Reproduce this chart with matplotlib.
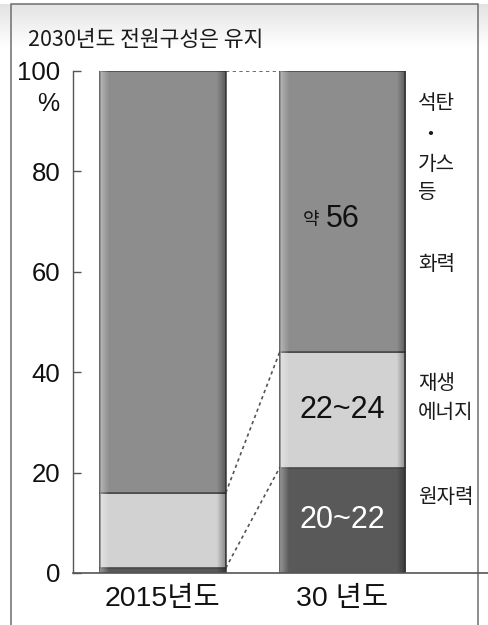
import numpy as np
import matplotlib
matplotlib.use('Agg')
import matplotlib.pyplot as plt
from matplotlib.patches import Rectangle

plt.rcParams['font.family'] = ['Liberation Sans', 'Noto Sans CJK KR']

# 전원구성 (%)
years = ['2015년도', '30 년도']
nuclear = [1, 21]
renewables = [15, 23]
fossil = [84, 56]
inner_labels = [None, ('20~22', '22~24', '56')]
yticks = [0, 20, 40, 60, 80, 100]

fossil_note = [('석탄', 93.6), ('・', 87.3), ('가스', 81.3), ('등', 75.7), ('화력', 61.4)]
renew_note = [('재생', 37.8), ('에너지', 31.9)]
nuclear_note = [('원자력', 15.1)]

W, H = 489, 625
fig = plt.figure(figsize=(W / 100, H / 100), dpi=100)

# 상단 회색 그라데이션 배경
bg = fig.add_axes([0, 0, 1, 1], zorder=-5)
bg.axis('off')
grad = np.linspace(0, 1, 200)[:, None] * np.ones((1, 50))
shade = 0.89 + 0.11 * np.clip(grad * 1.3, 0, 1)
img = np.dstack([shade, shade, shade])
bg.imshow(img, extent=[0, 1, 1 - 60 / H, 1 - 4 / H], aspect='auto', origin='upper')
bg.set_xlim(0, 1)
bg.set_ylim(0, 1)

# 바깥 테두리
fig.patches.append(Rectangle((11 / W, -0.01), 467 / W, 1.01 - 4 / H,
                             transform=fig.transFigure, fill=False,
                             edgecolor='#6e6e6e', lw=1.1, zorder=-4))

fig.text(28 / W, 1 - 40 / H, '2030년도 전원구성은 유지', fontsize=15.5,
         family=['Noto Sans CJK KR'], va='center', ha='left', color='#1a1a1a')
fig.text(48 / W, 1 - 104 / H, '%', fontsize=18, ha='center', va='center',
         color='#111111')

# 메인 축
x0 = -(163 - 73) / 179.5
x1 = 1 + (489 - 342.5) / 179.5
ax = fig.add_axes([73 / W, 1 - 573 / H, (489 - 73) / W, (573 - 71) / H])
ax.set_xlim(x0, x1)
ax.set_ylim(0, 100)
ax.patch.set_alpha(0)
for s in ['top', 'right']:
    ax.spines[s].set_visible(False)
ax.spines['left'].set_color('#555555')
ax.spines['bottom'].set_color('#555555')
ax.spines['left'].set_linewidth(1.0)
ax.spines['bottom'].set_linewidth(1.2)
ax.spines['left'].set_bounds(0, 100)

ax.set_yticks(yticks)
ax.set_yticklabels([str(v) for v in yticks], fontsize=18.5, color='#111111')
ax.tick_params(axis='y', direction='in', length=5.5, width=1.0, color='#555555', pad=9)
ax.set_xticks([0, 1])
ax.set_xticklabels(years, fontsize=20.5, color='#111111')
ax.tick_params(axis='x', length=0, pad=9)

x = np.arange(len(years))
width = 0.70
colors = {'nuclear': '#595959', 'renew': '#d2d2d2', 'fossil': '#8d8d8d'}
edge = '#4a4a4a'

bars_n = ax.bar(x, nuclear, width, color=colors['nuclear'], edgecolor=edge, lw=1.2, zorder=2)
bars_r = ax.bar(x, renewables, width, bottom=nuclear, color=colors['renew'],
                edgecolor=edge, lw=1.2, zorder=2)
bottom_f = [a + b for a, b in zip(nuclear, renewables)]
bars_f = ax.bar(x, fossil, width, bottom=bottom_f, color=colors['fossil'],
                edgecolor=edge, lw=1.2, zorder=2)

# 막대 좌우 음영
t = np.linspace(0, 1, 120)
alpha = np.zeros((1, t.size, 4))
light = np.clip(1 - t / 0.07, 0, 1) * 0.35
dark = np.clip((t - 0.93) / 0.07, 0, 1) * 0.35
for i in range(t.size):
    if light[i] > 0:
        alpha[0, i] = [1, 1, 1, light[i]]
    else:
        alpha[0, i] = [0, 0, 0, dark[i]]
for bars in (bars_n, bars_r, bars_f):
    for b in bars:
        bx, by = b.get_x(), b.get_y()
        im = ax.imshow(alpha, extent=[bx, bx + b.get_width(), by, by + b.get_height()],
                       aspect='auto', zorder=2.5, interpolation='bilinear')
        im.set_clip_path(b)
ax.set_xlim(x0, x1)
ax.set_ylim(0, 100)

# 점선 연결
xa, xb = width / 2, 1 - width / 2
tops0 = [nuclear[0], bottom_f[0], 100]
tops1 = [nuclear[1], bottom_f[1], 100]
for a, b in zip(tops0, tops1):
    ax.plot([xa, xb], [a, b], ls=(0, (2.0, 2.0)), color='#555555', lw=1.2, zorder=1)

# 막대 안 수치
ax.text(1, nuclear[1] / 2, inner_labels[1][0], fontsize=22, color='white',
        ha='center', va='center', zorder=4)
ax.text(1, nuclear[1] + renewables[1] / 2, inner_labels[1][1], fontsize=22,
        color='#111111', ha='center', va='center', zorder=4)
ymid = bottom_f[1] + fossil[1] / 2
ax.text(1 - 0.13, ymid - 1.6, '약', fontsize=13, family=['Noto Sans CJK KR'],
        color='#111111', ha='right', va='center', zorder=4)
ax.text(1 - 0.095, ymid - 1.4, inner_labels[1][2], fontsize=22, color='#111111',
        ha='left', va='center', zorder=4)

# 오른쪽 설명
xr = 1 + (418 - 342.5) / 179.5
for label, yy in fossil_note + renew_note + nuclear_note:
    ha = 'left'
    xx = xr
    if label == '・':
        xx = xr + 0.065
        ha = 'center'
    ax.text(xx, yy, label, fontsize=14.5, family=['Noto Sans CJK KR'],
            color='#1a1a1a', ha=ha, va='center')

fig.savefig('out.png', dpi=100)
